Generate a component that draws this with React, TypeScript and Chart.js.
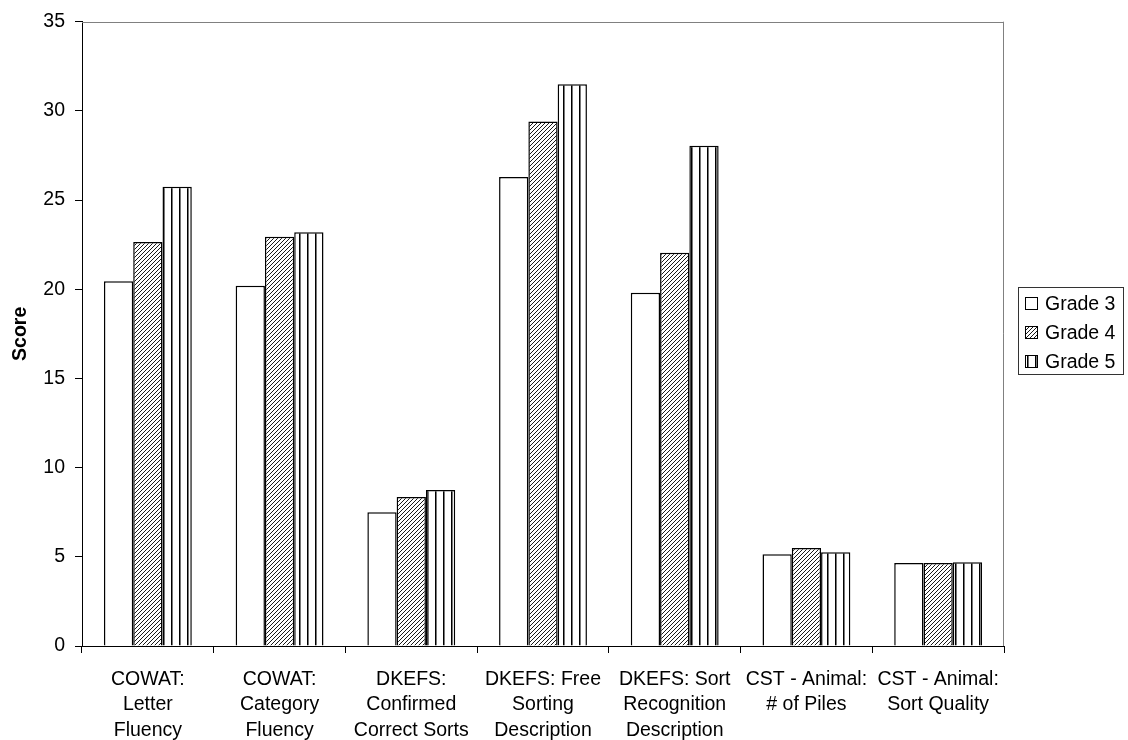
import React, { useEffect, useRef } from "react";
import { Chart, registerables } from "chart.js";

Chart.register(...registerables);

const categories: string[][] = [
  ["COWAT:", "Letter", "Fluency"],
  ["COWAT:", "Category", "Fluency"],
  ["DKEFS:", "Confirmed", "Correct Sorts"],
  ["DKEFS: Free", "Sorting", "Description"],
  ["DKEFS: Sort", "Recognition", "Description"],
  ["CST - Animal:", "# of Piles"],
  ["CST - Animal:", "Sort Quality"],
];

const seriesNames = ["Grade 3", "Grade 4", "Grade 5"];
const grade3 = [20.45, 20.2, 7.5, 26.3, 19.8, 5.15, 4.65];
const grade4 = [22.65, 22.95, 8.35, 29.4, 22.05, 5.5, 4.65];
const grade5 = [25.75, 23.2, 8.75, 31.5, 28.05, 5.25, 4.7];

const yMin = 0;
const yMax = 35;
const yStep = 5;

const FONT = "'Liberation Sans', Arial, sans-serif";
const FS = 19.5;

function makeHatch(): CanvasPattern | string {
  const c = document.createElement("canvas");
  c.width = 4;
  c.height = 4;
  const g = c.getContext("2d");
  if (!g) return "#888";
  g.fillStyle = "#fff";
  g.fillRect(0, 0, 4, 4);
  g.strokeStyle = "#1a1a1a";
  g.lineWidth = 1;
  g.beginPath();
  g.moveTo(0, 4);
  g.lineTo(4, 0);
  g.moveTo(-1, 1);
  g.lineTo(1, -1);
  g.moveTo(3, 5);
  g.lineTo(5, 3);
  g.stroke();
  return g.createPattern(c, "repeat") as CanvasPattern;
}

function makeVertical(): CanvasPattern | string {
  const c = document.createElement("canvas");
  c.width = 8;
  c.height = 8;
  const g = c.getContext("2d");
  if (!g) return "#ccc";
  g.fillStyle = "#fff";
  g.fillRect(0, 0, 8, 8);
  g.fillStyle = "#000";
  g.fillRect(3, 0, 1, 8);
  g.fillStyle = "#777";
  g.fillRect(4, 0, 1, 8);
  return g.createPattern(c, "repeat") as CanvasPattern;
}

export default function App() {
  const ref = useRef<HTMLCanvasElement | null>(null);

  useEffect(() => {
    if (!ref.current) return;
    const fills = ["#ffffff", makeHatch(), makeVertical()];
    const values = [grade3, grade4, grade5];

    const framePlugin = {
      id: "frameAndLegend",
      afterDraw(chart: any) {
        const { ctx, chartArea } = chart;
        const { left, right, top, bottom } = chartArea;
        ctx.save();
        ctx.strokeStyle = "#808080";
        ctx.lineWidth = 1;
        ctx.beginPath();
        ctx.moveTo(left, Math.round(top) + 0.5);
        ctx.lineTo(right, Math.round(top) + 0.5);
        ctx.moveTo(Math.round(right) - 0.5, top);
        ctx.lineTo(Math.round(right) - 0.5, bottom);
        ctx.stroke();

        // legend
        const lx = 1018.5;
        const ly = 287.5;
        const lw = 105;
        const lh = 87;
        ctx.strokeStyle = "#333";
        ctx.fillStyle = "#fff";
        ctx.fillRect(lx, ly, lw, lh);
        ctx.strokeRect(lx, ly, lw, lh);
        ctx.font = `${FS}px ${FONT}`;
        ctx.textBaseline = "middle";
        ctx.textAlign = "left";
        chart.data.datasets.forEach((ds: any, i: number) => {
          const cy = 303.5 + i * 29;
          ctx.fillStyle = ds.backgroundColor;
          ctx.fillRect(1025, cy - 6.5, 13, 13);
          ctx.strokeStyle = "#000";
          ctx.lineWidth = 1;
          ctx.strokeRect(1025.5, cy - 6, 12, 12);
          ctx.fillStyle = "#000";
          ctx.fillText(ds.label, 1045, cy + 1);
        });
        ctx.restore();
      },
    };

    const chart = new Chart(ref.current, {
      type: "bar",
      data: {
        labels: categories,
        datasets: seriesNames.map((name, i) => ({
          label: name,
          data: values[i],
          backgroundColor: fills[i] as any,
          borderColor: "#000",
          borderWidth: 1.5,
          categoryPercentage: 0.667,
          barPercentage: 1.0,
        })),
      },
      options: {
        responsive: false,
        animation: false,
        devicePixelRatio: 1,
        layout: { padding: { top: 15, right: 124, left: 0, bottom: 0 } },
        plugins: {
          legend: { display: false },
          tooltip: { enabled: false },
        },
        scales: {
          x: {
            grid: {
              display: true,
              drawOnChartArea: false,
              drawTicks: true,
              tickLength: 7,
              color: "#000",
              offset: true,
            },
            border: { display: true, color: "#000", width: 1 },
            ticks: {
              color: "#000",
              font: { family: FONT, size: FS, lineHeight: 1.3 },
              maxRotation: 0,
              minRotation: 0,
              autoSkip: false,
              padding: 14,
            },
            afterFit(scale: any) {
              scale.height = 94;
            },
          },
          y: {
            min: yMin,
            max: yMax,
            ticks: {
              stepSize: yStep,
              color: "#000",
              font: { family: FONT, size: FS },
              padding: 10,
            },
            grid: {
              display: true,
              drawOnChartArea: false,
              drawTicks: true,
              tickLength: 7,
              color: "#000",
            },
            border: { display: true, color: "#000", width: 1 },
            title: {
              display: true,
              text: "Score",
              color: "#000",
              font: { family: FONT, size: FS, weight: "bold" },
              padding: { top: 9, bottom: 0 },
            },
            afterFit(scale: any) {
              scale.width = 82;
            },
          },
        },
      },
      plugins: [framePlugin],
    });
    return () => chart.destroy();
  }, []);

  return (
    <div style={{ position: "absolute", left: 0, top: 0, width: 1128, height: 740, background: "#fff" }}>
      <canvas ref={ref} width={1128} height={740} style={{ width: 1128, height: 740, display: "block" }} />
    </div>
  );
}
